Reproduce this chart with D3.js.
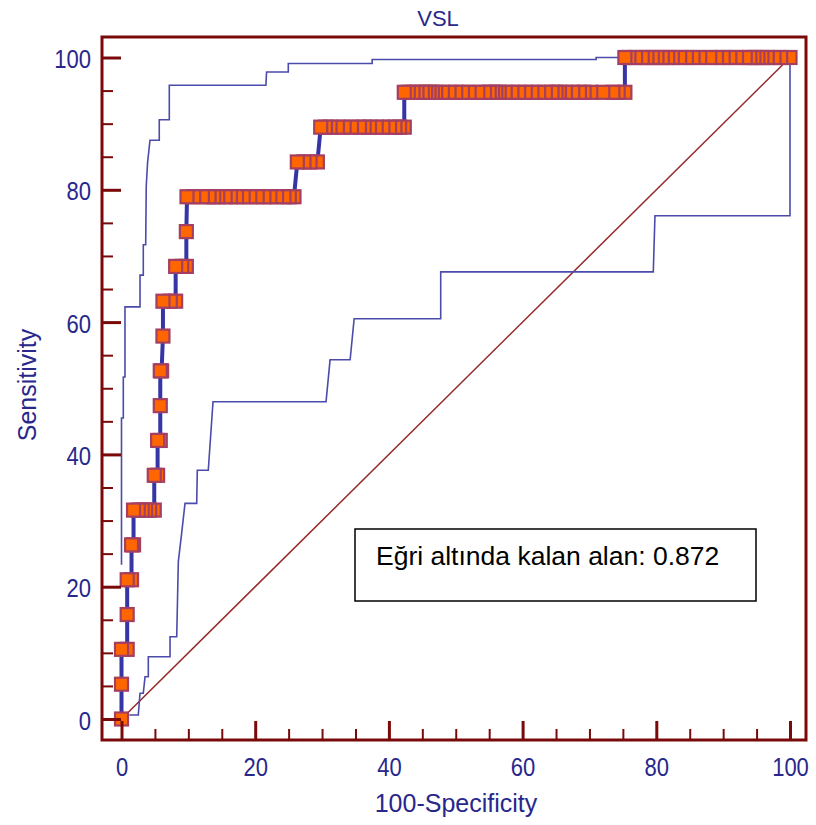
<!DOCTYPE html>
<html>
<head>
<meta charset="utf-8">
<script src="https://cdn.jsdelivr.net/npm/d3@7"></script>
<style>
  body { margin: 0; background: #fff; }
  text { font-family: "Liberation Sans", Arial, sans-serif; }
</style>
</head>
<body>
<svg id="chart" width="816" height="825"></svg>
<script>
// sensitivity levels (19 positive cases) and the 100-specificity values found at each level
var sensLevels = [0, 5.26, 10.53, 15.79, 21.05, 26.32, 31.58, 36.84, 42.11, 47.37,
    52.63, 57.89, 63.16, 68.42, 73.68, 78.95, 84.21, 89.47, 94.74, 100];

var fprRuns = [
    [0],
    [0],
    [0, 0.85],
    [0.85],
    [0.85, 1.5],
    [1.5, 1.8],
    [1.8, 2.5, 3.1, 3.6, 4.2, 4.9],
    [4.9, 5.4],
    [5.4, 5.8],
    [5.8],
    [5.8, 6.0],
    [6.2],
    [6.2, 7.3, 8.1],
    [8.1, 9.0, 9.7],
    [9.7],
    [9.8, 10.8, 12.1, 13.1, 13.8, 14.4, 15.5, 16.3, 17.2, 18.2, 19.2, 20.3, 21.3, 22.2, 23.2, 24.3, 25.1, 25.8],
    [26.3, 27.3, 28.2, 29.3],
    [29.8, 30.5, 31.2, 32.3, 33.3, 34.4, 35.6, 36.3, 37.1, 38.1, 39.1, 40.1, 40.9, 41.6, 42.3],
    [42.3, 42.9, 43.6, 44.2, 45.0, 45.5, 46.0, 46.5, 47.0, 48.0, 49.0, 50.0, 51.0, 52.0, 53.3, 54.3,
     55.0, 55.5, 56.0, 56.5, 57.4, 58.4, 59.4, 60.4, 61.4, 62.4, 63.4, 64.4, 65.0, 65.5, 66.4, 67.5,
     68.5, 69.2, 70.2, 72.0, 73.5, 74.3, 75.3],
    [75.3, 75.9, 76.9, 77.9, 78.6, 79.4, 80.1, 80.9, 81.7, 82.4, 83.5, 84.5, 85.5, 86.5, 88.0, 89.0,
     90.0, 91.0, 92.0, 93.3, 94.0, 94.6, 95.2, 95.8, 96.6, 97.6, 98.6, 100]
];

// 95% confidence bounds [100-specificity, sensitivity]
var upperCI = [[0, 23.3], [0, 45.5], [0.27, 45.5], [0.27, 51.7], [0.52, 51.7], [0.52, 62.3],
    [2.77, 62.3], [2.77, 67.1], [3.26, 67.1], [3.26, 71.7], [3.62, 71.7], [3.7, 80.5], [3.9, 84.1],
    [4.26, 87.5], [5.65, 87.5], [5.65, 90.6], [7.15, 90.6], [7.15, 95.8], [21.6, 95.8], [21.7, 97.8],
    [24.95, 97.8], [24.95, 99.1], [37.5, 99.1], [37.5, 99.7], [71, 99.7], [71, 100], [100, 100]];

var lowerCI = [[1.17, 0.6], [2.51, 0.6], [2.77, 3.89], [3.26, 3.89], [3.52, 6.39], [4.01, 6.39],
    [4.01, 9.42], [7.26, 9.42], [7.26, 12.44], [8.26, 12.44], [8.5, 23.8], [9.0, 28.1], [9.5, 32.6],
    [11.25, 32.6], [11.34, 37.6], [12.98, 37.6], [13.69, 47.97], [30.6, 47.97], [31.2, 54.3],
    [34.2, 54.3], [34.8, 60.5], [47.75, 60.5], [47.75, 67.6], [79.55, 67.6], [79.8, 76.07],
    [100, 76.07], [100, 100]];

var majorTicks = [0, 20, 40, 60, 80, 100];
var minorTicks = [5, 10, 15, 25, 30, 35, 45, 50, 55, 65, 70, 75, 85, 90, 95];

var axisColor = "#7a0a0a";
var labelColor = "#27278c";

var svg = d3.select("#chart");

var xScale = d3.scaleLinear().domain([0, 100]).range([121.5, 790]);
var yScale = d3.scaleLinear().domain([0, 100]).range([719, 57.5]);

var frame = {left: 102, top: 37, right: 806, bottom: 740};

// flatten the runs into ROC points
var rocPoints = [];
sensLevels.forEach(function (s, i) {
    fprRuns[i].forEach(function (f) {
        rocPoints.push({x: f, y: s});
    });
});

var line = d3.line()
    .x(function (d) { return xScale(d[0]); })
    .y(function (d) { return yScale(d[1]); });

// diagonal reference line
svg.append("path")
    .datum([[0, 0], [100, 100]])
    .attr("fill", "none")
    .attr("stroke", "#962828")
    .attr("stroke-width", 1.5)
    .attr("d", line);

// confidence bounds
[upperCI, lowerCI].forEach(function (ci) {
    svg.append("path")
        .datum(ci)
        .attr("fill", "none")
        .attr("stroke", "#4b4bab")
        .attr("stroke-width", 1.6)
        .attr("d", line);
});

// ROC curve
svg.append("path")
    .datum(rocPoints.map(function (p) { return [p.x, p.y]; }))
    .attr("fill", "none")
    .attr("stroke", "#3535a5")
    .attr("stroke-width", 4)
    .attr("d", line);

// markers, drawn right to left so the first one of each run stays on top
svg.append("g")
    .selectAll("rect")
    .data(rocPoints.slice().reverse())
    .enter()
    .append("rect")
    .attr("x", function (d) { return xScale(d.x) - 6.5; })
    .attr("y", function (d) { return yScale(d.y) - 6.5; })
    .attr("width", 13)
    .attr("height", 13)
    .attr("fill", "#ff6600")
    .attr("stroke", "#a43f62")
    .attr("stroke-width", 2.2);

// frame
svg.append("rect")
    .attr("x", frame.left)
    .attr("y", frame.top)
    .attr("width", frame.right - frame.left)
    .attr("height", frame.bottom - frame.top)
    .attr("fill", "none")
    .attr("stroke", axisColor)
    .attr("stroke-width", 3);

// axes
var xMajor = svg.append("g")
    .attr("transform", "translate(0," + frame.bottom + ")")
    .call(d3.axisBottom(xScale).tickValues(majorTicks).tickSize(-19).tickPadding(18));
var xMinor = svg.append("g")
    .attr("transform", "translate(0," + frame.bottom + ")")
    .call(d3.axisBottom(xScale).tickValues(minorTicks).tickSize(-11).tickFormat(""));
var yMajor = svg.append("g")
    .attr("transform", "translate(" + frame.left + ",0)")
    .call(d3.axisLeft(yScale).tickValues(majorTicks).tickSize(-19).tickPadding(11));
var yMinor = svg.append("g")
    .attr("transform", "translate(" + frame.left + ",0)")
    .call(d3.axisLeft(yScale).tickValues(minorTicks).tickSize(-11).tickFormat(""));

[xMajor, xMinor, yMajor, yMinor].forEach(function (g) {
    g.select(".domain").remove();
});
[xMajor, yMajor].forEach(function (g) {
    g.selectAll(".tick line").attr("stroke", axisColor).attr("stroke-width", 3);
});
[xMinor, yMinor].forEach(function (g) {
    g.selectAll(".tick line").attr("stroke", axisColor).attr("stroke-width", 2);
});

xMajor.selectAll(".tick text")
    .attr("fill", labelColor)
    .style("font-size", "25px")
    .attr("transform", "scale(0.88,1)");
yMajor.selectAll(".tick text")
    .attr("fill", labelColor)
    .style("font-size", "25px")
    .attr("x", -11 / 0.88)
    .attr("dy", "0.4em")
    .attr("transform", "scale(0.88,1)");

// titles
svg.append("text")
    .attr("x", 438)
    .attr("y", 26)
    .attr("text-anchor", "middle")
    .attr("fill", labelColor)
    .style("font-size", "22px")
    .text("VSL");

svg.append("text")
    .attr("x", 456)
    .attr("y", 812)
    .attr("text-anchor", "middle")
    .attr("fill", labelColor)
    .style("font-size", "25px")
    .text("100-Specificity");

svg.append("text")
    .attr("transform", "translate(36,385) rotate(-90)")
    .attr("text-anchor", "middle")
    .attr("fill", labelColor)
    .style("font-size", "25px")
    .text("Sensitivity");

// area box
svg.append("rect")
    .attr("x", 355)
    .attr("y", 529)
    .attr("width", 401)
    .attr("height", 72)
    .attr("fill", "#fff")
    .attr("stroke", "#000")
    .attr("stroke-width", 1.5);

svg.append("text")
    .attr("x", 376)
    .attr("y", 565)
    .attr("fill", "#000")
    .style("font-size", "26.5px")
    .text("Eğri altında kalan alan: 0.872");
</script>
</body>
</html>
